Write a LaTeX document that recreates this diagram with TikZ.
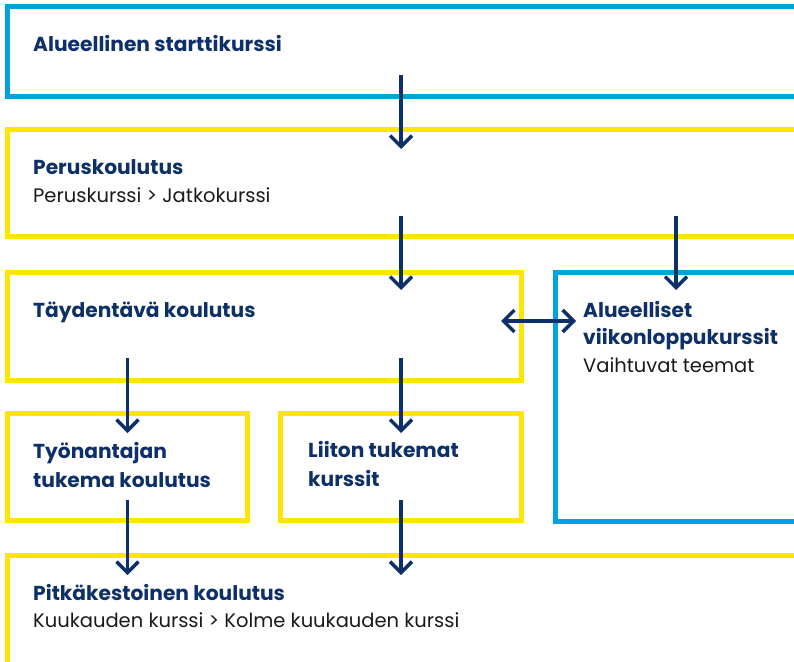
\documentclass[tikz,border=0pt]{standalone}
\usepackage{fontspec}
\setmainfont{Poppins}
\usetikzlibrary{arrows.meta}

\definecolor{navy}{HTML}{0E3068}
\definecolor{skyblue}{HTML}{00A3DD}
\definecolor{sunyellow}{HTML}{FFE600}
\definecolor{ink}{HTML}{1A1A1A}

\begin{document}
\begin{tikzpicture}[x=1pt, y=-1pt,
    box/.style={draw, line width=5pt, anchor=north west, inner sep=0pt, outer sep=0pt},
    title/.style={anchor=base west, inner sep=0pt, text=navy, font=\fontsize{20.2}{28}\selectfont\bfseries},
    sub/.style={anchor=base west, inner sep=0pt, text=ink, font=\fontsize{19.5}{28}\selectfont},
    flow/.style={navy, line width=3.5pt, -{Straight Barb[length=11pt, width=22pt]}}]

    \clip (0,0) rectangle (794,661);

    % boxes
    \node[box, skyblue, minimum width=789pt, minimum height=89pt] (start) at (7,7) {};
    \node[box, sunyellow, minimum width=789pt, minimum height=107pt] (perus) at (7,129.5) {};
    \node[box, sunyellow, minimum width=514pt, minimum height=108pt] (tayd) at (7,272) {};
    \node[box, skyblue, minimum width=240.5pt, minimum height=249.5pt] (viikko) at (555.5,272) {};
    \node[box, sunyellow, minimum width=240.5pt, minimum height=107pt] (tyon) at (7,413.5) {};
    \node[box, sunyellow, minimum width=240.5pt, minimum height=107pt] (liitto) at (280.5,413.5) {};
    \node[box, sunyellow, minimum width=789pt, minimum height=115pt] (pitka) at (7,555.5) {};

    % texts
    \node[title] (t-start) at (33,52) {Alueellinen starttikurssi};
    \node[title] (t-perus) at (33,174) {Peruskoulutus};
    \node[sub] (s-perus) at (33,202) {Peruskurssi > Jatkokurssi};
    \node[title] (t-tayd) at (33,317) {Täydentävä koulutus};
    \node[title] (t-viikko1) at (583,317) {Alueelliset};
    \node[title] (t-viikko2) at (583,344) {viikonloppukurssit};
    \node[sub] (s-viikko) at (583,372) {Vaihtuvat teemat};
    \node[title] (t-tyon1) at (33,458) {Työnantajan};
    \node[title] (t-tyon2) at (33,487) {tukema koulutus};
    \node[title] (t-liitto1) at (308,457) {Liiton tukemat};
    \node[title] (t-liitto2) at (308,486) {kurssit};
    \node[title] (t-pitka) at (33,600) {Pitkäkestoinen koulutus};
    \node[sub] (s-pitka) at (33,627) {Kuukauden kurssi > Kolme kuukauden kurssi};

    % arrow ends
    \coordinate (a1s) at (401,75);
    \coordinate (a1e) at (401,149);
    \coordinate (a2s) at (401,216);
    \coordinate (a2e) at (401,290);
    \coordinate (a3s) at (676,216);
    \coordinate (a3e) at (676,290);
    \coordinate (a4s) at (501,321);
    \coordinate (a4e) at (576,321);
    \coordinate (a5s) at (127.5,358);
    \coordinate (a5e) at (127.5,433);
    \coordinate (a6s) at (401,358);
    \coordinate (a6e) at (401,433);
    \coordinate (a7s) at (127.5,500);
    \coordinate (a7e) at (127.5,575);
    \coordinate (a8s) at (401,500);
    \coordinate (a8e) at (401,575);

    \draw[flow] (a1s) -- (a1e);
    \draw[flow] (a2s) -- (a2e);
    \draw[flow] (a3s) -- (a3e);
    \draw[flow, {Straight Barb[length=11pt, width=22pt]}-{Straight Barb[length=11pt, width=22pt]}] (a4s) -- (a4e);
    \draw[flow] (a5s) -- (a5e);
    \draw[flow] (a6s) -- (a6e);
    \draw[flow] (a7s) -- (a7e);
    \draw[flow] (a8s) -- (a8e);

\end{tikzpicture}
\end{document}
